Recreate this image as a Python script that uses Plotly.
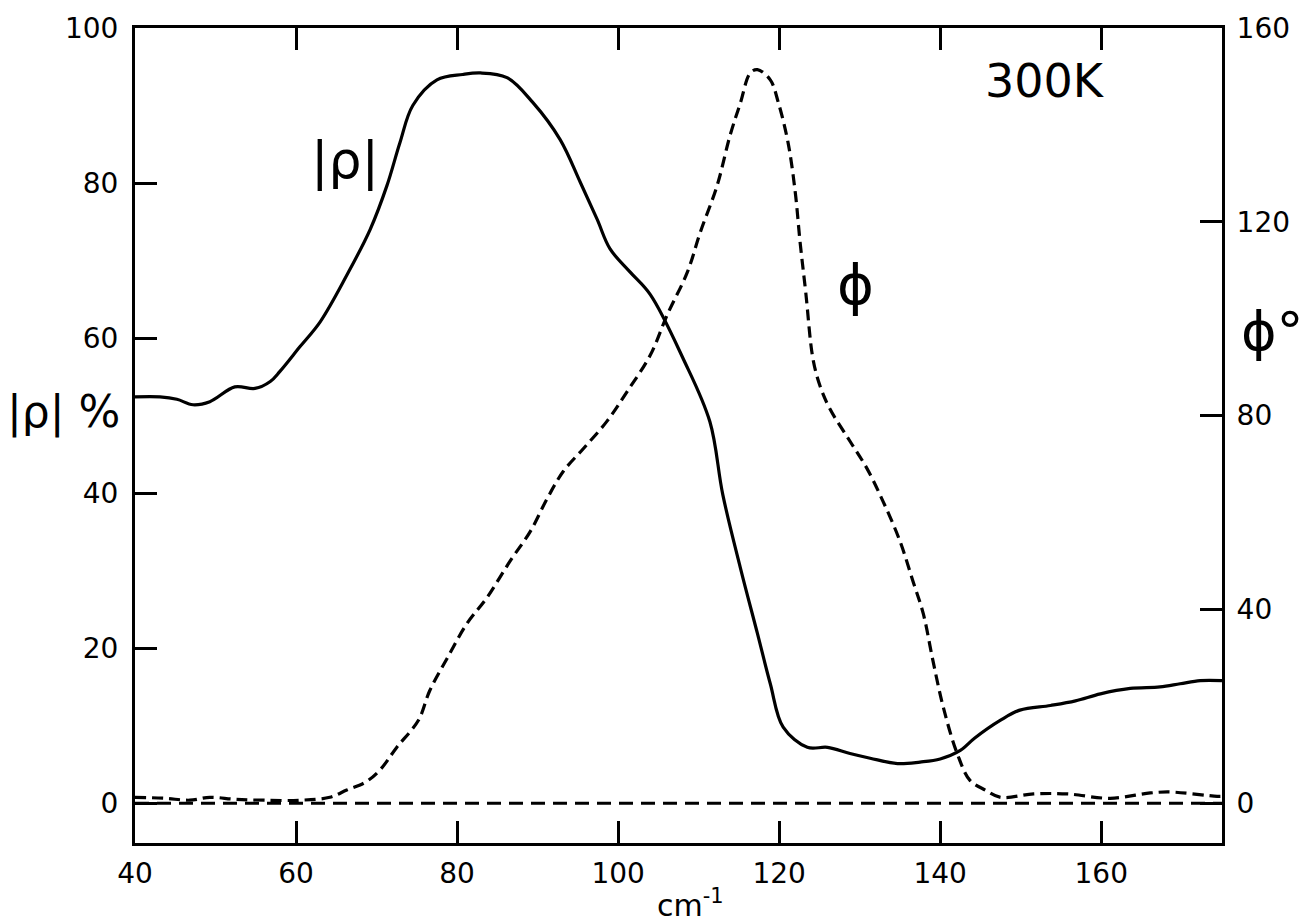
import plotly.graph_objects as go

# |rho| (%) vs wavenumber (cm^-1)
rho_x = [40.0, 43.1, 45.2, 47.2, 49.3, 52.4, 54.9, 56.8, 58.0, 60.5, 63.0, 66.3, 69.2, 71.3,
         72.9, 74.5, 77.5, 80.7, 82.9, 86.2, 89.4, 92.8, 95.3, 97.4, 99.0, 101.5, 104.0,
         108.1, 111.4, 113.0, 115.2, 117.3, 118.9, 120.5, 123.5, 126.0, 128.8, 131.3, 134.7,
         137.5, 140.0, 142.5, 144.3, 147.5, 149.9, 153.7, 156.8, 159.9, 163.6, 167.3, 169.8,
         172.3, 175.0]
rho_y = [52.4, 52.4, 52.1, 51.4, 51.8, 53.7, 53.5, 54.4, 55.7, 58.9, 62.1, 68.1, 74.0, 79.7,
         85.2, 90.0, 93.3, 94.0, 94.2, 93.6, 90.4, 85.6, 80.1, 75.3, 71.5, 68.5, 65.6,
         57.3, 49.2, 39.8, 30.3, 21.9, 15.4, 9.8, 7.2, 7.2, 6.4, 5.8, 5.1,
         5.3, 5.7, 6.8, 8.4, 10.7, 12.0, 12.6, 13.2, 14.1, 14.8, 15.0, 15.4,
         15.8, 15.8]

# phase phi (degrees) vs wavenumber
phi_x = [40.0, 43.7, 46.8, 49.3, 52.4, 56.1, 60.5, 64.2, 66.3, 68.6, 70.4, 72.5, 75.2, 76.6,
         78.8, 81.2, 83.7, 86.6, 89.1, 91.2, 93.2, 95.7, 98.6, 101.1, 104.0, 106.1, 108.6,
         110.2, 112.3, 113.9, 115.2, 116.4, 117.3, 118.9, 119.9, 121.1, 122.0, 122.6, 123.3,
         124.2, 125.1, 126.3, 128.8, 130.9, 132.9, 135.0, 136.6, 137.9, 139.1, 140.4, 142.1,
         143.7, 145.6, 147.5, 151.6, 155.8, 161.1, 166.1, 168.6, 174.4, 175.0]
phi_y = [1.2, 1.0, 0.6, 1.2, 0.8, 0.6, 0.6, 1.2, 2.7, 4.3, 6.8, 11.5, 17.1, 23.2,
         30.0, 37.0, 42.4, 50.0, 56.1, 62.9, 68.5, 73.2, 78.8, 84.9, 92.5, 100.8, 109.6,
         117.8, 127.5, 137.8, 144.6, 150.7, 151.4, 149.3, 144.6, 136.4, 126.1, 115.8, 105.5,
         91.7, 86.0, 81.4, 74.7, 69.1, 62.3, 54.1, 45.9, 39.1, 29.4, 19.7, 10.3,
         4.7, 2.7, 1.2, 1.9, 1.9, 1.0, 2.1, 2.3, 1.4, 1.4]

base_x = [40, 175]
base_y = [0, 0]

x_ticks = [40, 60, 80, 100, 120, 140, 160]
y_ticks = [0, 20, 40, 60, 80, 100]
y2_ticks = [0, 40, 80, 120, 160]

FONT = "DejaVu Sans"

fig = go.Figure()
fig.add_trace(go.Scatter(x=base_x, y=base_y, mode="lines",
                         line=dict(color="black", width=3, dash="14px,8px"),
                         showlegend=False))
fig.add_trace(go.Scatter(x=rho_x, y=rho_y, mode="lines", line_shape="spline",
                         line=dict(color="black", width=3.2), showlegend=False))
fig.add_trace(go.Scatter(x=phi_x, y=phi_y, mode="lines", line_shape="spline", yaxis="y2",
                         line=dict(color="black", width=3.2, dash="11px,6px"),
                         showlegend=False))

axis_common = dict(showgrid=False, zeroline=False, showline=True, linecolor="black",
                   linewidth=3, ticks="inside", ticklen=22, tickwidth=3, tickcolor="black",
                   tickfont=dict(family=FONT, size=28, color="black"))

fig.update_layout(
    width=1306, height=922,
    margin=dict(l=135, r=84, t=25, b=79),
    paper_bgcolor="white", plot_bgcolor="white",
    xaxis=dict(range=[40, 175], tickvals=x_ticks, mirror="ticks",
               ticklabelstandoff=3, **axis_common),
    yaxis=dict(range=[-5.14, 100], tickvals=y_ticks, mirror=True,
               ticklabelstandoff=8, **axis_common),
    yaxis2=dict(range=[-8.23, 160], tickvals=y2_ticks, overlaying="y", side="right",
                ticklabelstandoff=6, **axis_common),
    showlegend=False,
)

# annotations positioned in figure pixels, converted to paper coordinates
W, H = 1306, 922
L, R, T, B = 135, 84, 25, 79
pw, ph = W - L - R, H - T - B
ann = [
    dict(text="300K", px=1045, py=78, size=46),
    dict(text="|ρ|", px=345, py=158, size=52),
    dict(text="ϕ", px=855, py=282, size=56),
    dict(text="|ρ| %", px=64, py=410, size=44),
    dict(text="ϕ°", px=1272, py=330, size=54),
    dict(text="cm<sup>-1</sup>", px=690, py=904, size=30),
]
for a in ann:
    fig.add_annotation(text=a["text"], x=(a["px"] - L) / pw, y=1 - (a["py"] - T) / ph,
                       xref="paper", yref="paper", showarrow=False,
                       xanchor="center", yanchor="middle",
                       font=dict(family=FONT, size=a["size"], color="black"))

fig.write_html("out.html")
